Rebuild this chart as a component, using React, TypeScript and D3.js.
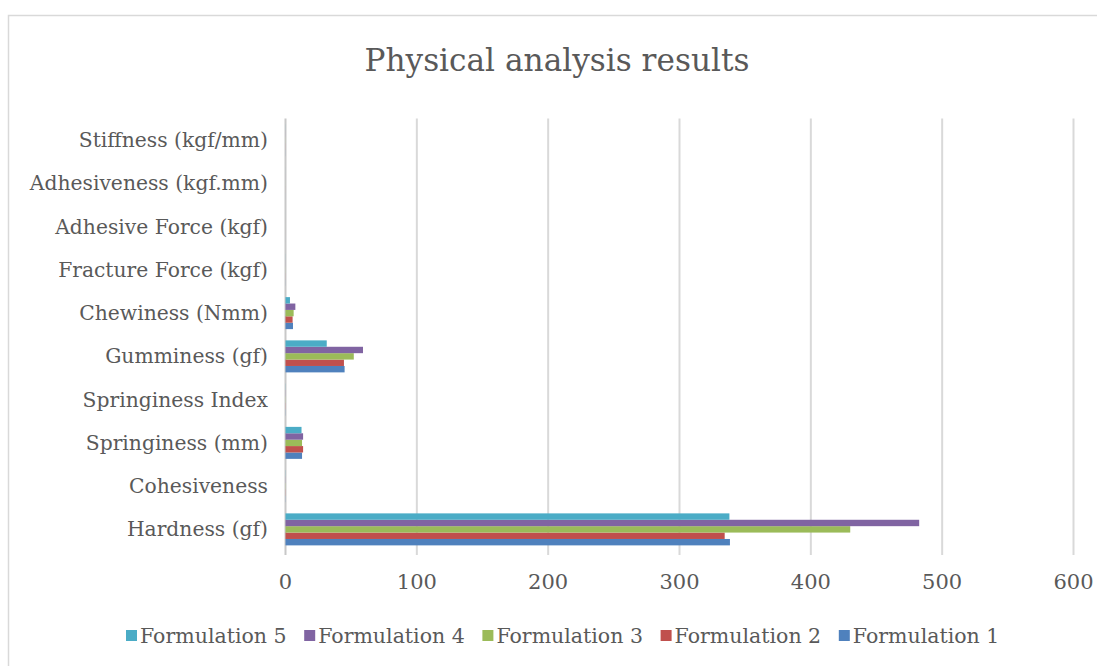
import React from "react";
import * as d3 from "d3";

const categories = [
  "Hardness (gf)",
  "Cohesiveness",
  "Springiness (mm)",
  "Springiness Index",
  "Gumminess (gf)",
  "Chewiness (Nmm)",
  "Fracture Force (kgf)",
  "Adhesive Force (kgf)",
  "Adhesiveness (kgf.mm)",
  "Stiffness (kgf/mm)",
];

const seriesNames = ["Formulation 1", "Formulation 2", "Formulation 3", "Formulation 4", "Formulation 5"];
const seriesColors = ["#4F81BD", "#C0504D", "#9BBB59", "#8064A2", "#4BACC6"];

const formulation1 = [338.4, 0.1, 12.6, 0.1, 45, 5.7, 0.05, 0.01, 0.02, 0.05];
const formulation2 = [334.4, 0.1, 13.4, 0.1, 44.5, 5.4, 0.05, 0.01, 0.02, 0.05];
const formulation3 = [430, 0.1, 12.6, 0.1, 52, 6.2, 0.05, 0.01, 0.02, 0.05];
const formulation4 = [482.5, 0.1, 13.4, 0.1, 59, 7.5, 0.05, 0.01, 0.02, 0.05];
const formulation5 = [338, 0.1, 12.2, 0.1, 31.4, 3.4, 0.05, 0.01, 0.02, 0.05];
const seriesValues = [formulation1, formulation2, formulation3, formulation4, formulation5];

const xTicks = [0, 100, 200, 300, 400, 500, 600];

const FONT = "'DejaVu Serif', 'Liberation Serif', serif";
const TEXT = "#595959";

export default function App() {
  const plotLeft = 285.5;
  const plotRight = 1073.5;
  const plotTop = 118.5;
  const plotBottom = 551;

  const x = d3.scaleLinear().domain([0, 600]).range([plotLeft, plotRight]);
  const y = d3
    .scaleBand<string>()
    .domain([...categories].reverse())
    .range([plotTop, plotBottom])
    .paddingInner(0)
    .paddingOuter(0);
  const band = y.bandwidth();
  const barH = 6.4;
  const groupH = barH * seriesNames.length;

  const legendOrder = [4, 3, 2, 1, 0];
  const legendStart = 126;
  const legendStride = 178.2;

  return (
    <svg
      width={1097}
      height={666}
      style={{ position: "absolute", left: 0, top: 0, background: "#fff" }}
    >
      <rect x={0} y={0} width={1097} height={666} fill="#fff" />
      <rect x={8.5} y={15.5} width={1200} height={800} fill="#fff" stroke="#d9d9d9" strokeWidth={1.5} />
      <text
        x={557}
        y={71}
        textAnchor="middle"
        fontFamily={FONT}
        fontSize={31}
        fill={TEXT}
        textLength={385}
        lengthAdjust="spacingAndGlyphs"
      >
        Physical analysis results
      </text>
      {xTicks.map((t) => (
        <line
          key={t}
          x1={x(t)}
          x2={x(t)}
          y1={plotTop}
          y2={plotBottom + 4}
          stroke={t === 0 ? "#c8c8c8" : "#d9d9d9"}
          strokeWidth={2}
        />
      ))}
      {categories.map((c, ci) => {
        const cy = (y(c) as number) + band / 2;
        return (
          <g key={c}>
            <text
              x={268}
              y={cy}
              dy="0.35em"
              textAnchor="end"
              fontFamily={FONT}
              fontSize={20.3}
              fill={TEXT}
            >
              {c}
            </text>
            {seriesValues.map((vals, si) => {
              const top = cy + groupH / 2 - (si + 1) * barH;
              const w = x(vals[ci]) - x(0);
              return (
                <rect
                  key={si}
                  x={x(0)}
                  y={top}
                  width={Math.max(0, w)}
                  height={barH}
                  fill={seriesColors[si]}
                />
              );
            })}
          </g>
        );
      })}
      {xTicks.map((t) => (
        <text
          key={"l" + t}
          x={x(t)}
          y={582}
          dy="0.35em"
          textAnchor="middle"
          fontFamily={FONT}
          fontSize={21}
          fill={TEXT}
        >
          {t}
        </text>
      ))}
      {legendOrder.map((si, i) => {
        const lx = legendStart + i * legendStride;
        return (
          <g key={"lg" + si}>
            <rect x={lx} y={630} width={11} height={11} fill={seriesColors[si]} />
            <text
              x={lx + 14}
              y={636}
              dy="0.35em"
              fontFamily={FONT}
              fontSize={20.5}
              fill={TEXT}
            >
              {seriesNames[si]}
            </text>
          </g>
        );
      })}
    </svg>
  );
}
